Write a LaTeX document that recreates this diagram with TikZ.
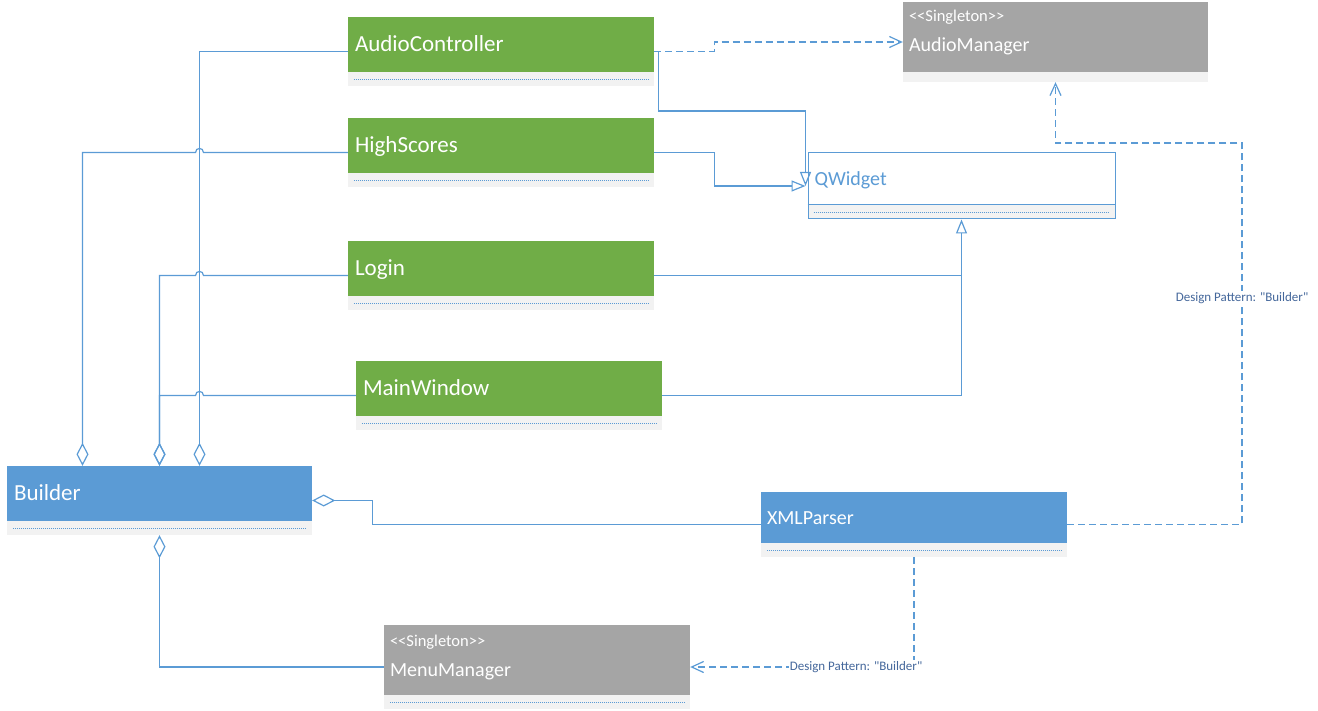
\documentclass[tikz,border=0pt]{standalone}
\usepackage{fontspec}
\setmainfont{Carlito}[Ligatures=TeXOff]
\usetikzlibrary{arrows.meta,calc}
\definecolor{cgreen}{HTML}{70AD47}
\definecolor{cblue}{HTML}{5B9BD5}
\definecolor{cgrey}{HTML}{A5A5A5}
\definecolor{cstrip}{HTML}{F2F2F2}
\definecolor{cline}{HTML}{5B9BD5}
\definecolor{clbl}{HTML}{44679B}
\tikzset{
  umlclass/.style n args={3}{rectangle, inner sep=0pt, draw=none,
    minimum width=#3, minimum height=#2,
    path picture={
      \fill[#1] (path picture bounding box.north west) rectangle ([yshift=14pt]path picture bounding box.south east);
      \fill[cstrip] ([yshift=14pt]path picture bounding box.south west) rectangle (path picture bounding box.south east);
    }},
  nmbig/.style={anchor=base west, inner sep=0pt, text=white, font=\fontsize{23}{27}\selectfont},
  nmmid/.style={anchor=base west, inner sep=0pt, text=white, font=\fontsize{20}{24}\selectfont},
  stereo/.style={anchor=base west, inner sep=0pt, text=white, font=\fontsize{16.5}{19}\selectfont},
  dotl/.style={cblue, line width=0.8pt, dash pattern=on 1pt off 1pt},
  conn/.style={cline, line width=1.2pt},
  agg/.style={conn, -{Diamond[open, length=23pt, width=12pt]}},
  gen/.style={conn, -{Triangle[open, length=14pt, width=11pt]}},
  dep/.style={cline, line width=1.2pt, dash pattern=on 7pt off 4pt, -{Straight Barb[length=12pt, width=11pt]}},
  lbl/.style={fill=white, inner sep=1pt, text=clbl, font=\fontsize{13}{15}\selectfont},
}
\begin{document}
\begin{tikzpicture}[x=1pt, y=-1pt]
\useasboundingbox (0,0) rectangle (1318,711);

% classes
\node[umlclass={cgreen}{69pt}{306pt}] (ac) at (501,51.5) {};
\node[umlclass={cgreen}{69pt}{306pt}] (hs) at (501,152.5) {};
\node[umlclass={cgreen}{69pt}{306pt}] (lo) at (501,275.5) {};
\node[umlclass={cgreen}{69pt}{306pt}] (mw) at (509,395.5) {};
\node[umlclass={cblue}{69pt}{305pt}] (bu) at (159.5,500.5) {};
\node[umlclass={cblue}{65pt}{306pt}] (xml) at (914,524.5) {};
\node[umlclass={cgrey}{84pt}{306pt}] (mm) at (537,667) {};
% AudioManager (strip 10)
\node[rectangle, inner sep=0pt, minimum width=305pt, minimum height=80pt,
  path picture={
    \fill[cgrey] (path picture bounding box.north west) rectangle ([yshift=10pt]path picture bounding box.south east);
    \fill[cstrip] ([yshift=10pt]path picture bounding box.south west) rectangle (path picture bounding box.south east);
  }] (am) at (1055.5,42) {};
% QWidget
\node[rectangle, inner sep=0pt, minimum width=307pt, minimum height=66pt, draw=cline, line width=1pt,
  path picture={
    \fill[white] (path picture bounding box.north west) rectangle ([yshift=15pt]path picture bounding box.south east);
    \fill[cstrip] ([yshift=15pt]path picture bounding box.south west) rectangle (path picture bounding box.south east);
  }] (qw) at (961.5,186) {};
\draw[cline, line width=1pt] ([yshift=15pt]qw.south west) -- ([yshift=15pt]qw.south east);

% dotted lines in strips
\foreach \n in {ac,hs,lo,mw,bu,xml,mm}{
  \draw[dotl] ([shift={(6pt,7pt)}]\n.south west) -- ([shift={(-6pt,7pt)}]\n.south east);
}
\draw[dotl] ([shift={(6pt,7.5pt)}]qw.south west) -- ([shift={(-6pt,7.5pt)}]qw.south east);

% texts
\node[nmbig] (acT) at ([xshift=7pt]ac.west) {AudioController};
\node[nmbig] (hsT) at ([xshift=7pt]hs.west) {HighScores};
\node[nmbig] (loT) at ([xshift=7pt]lo.west) {Login};
\node[nmbig] (mwT) at ([xshift=7pt]mw.west) {MainWindow};
\node[nmbig] (buT) at ([xshift=7pt]bu.west) {Builder};
\node[nmmid] (xmlT) at ([xshift=6pt]xml.west) {XMLParser};
\node[nmmid, text=cblue] (qwT) at ([xshift=7pt]qw.west) {QWidget};
\node[stereo] (amS) at ([shift={(6pt,20pt)}]am.west) {<\kern0pt<Singleton>\kern0pt>};
\node[nmmid] (amT) at ([shift={(6pt,-10pt)}]am.west) {AudioManager};
\node[stereo] (mmS) at ([shift={(6pt,21pt)}]mm.west) {<\kern0pt<Singleton>\kern0pt>};
\node[nmmid] (mmT) at ([shift={(6pt,-9pt)}]mm.west) {MenuManager};

% helper coordinates
\coordinate (bA) at ([xshift=-77pt]bu.north);
\coordinate (bC) at ([xshift=40pt]bu.north);
\coordinate (qwin) at ([xshift=-2pt]qw.west);
\coordinate (cR) at (1242,143);

% aggregations to Builder
\draw[agg] (ac.west) -| (bC);
\draw[agg] (hs.west) -- ($(bC |- hs.west)+(4pt,0pt)$) .. controls +(0pt,5.4pt) and +(0pt,5.4pt) .. ($(bC |- hs.west)+(-4pt,0pt)$) -- (bA |- hs.west) -- (bA);
\draw[agg] (lo.west) -- ($(bC |- lo.west)+(4pt,0pt)$) .. controls +(0pt,5.4pt) and +(0pt,5.4pt) .. ($(bC |- lo.west)+(-4pt,0pt)$) -- (bu.north |- lo.west) -- (bu.north);
\draw[agg] (mw.west) -- ($(bC |- mw.west)+(4pt,0pt)$) .. controls +(0pt,5.4pt) and +(0pt,5.4pt) .. ($(bC |- mw.west)+(-4pt,0pt)$) -- (bu.north |- mw.west) -- (bu.north);
\draw[agg] (xml.west) -| ([xshift=60pt]bu.east) -- (bu.east);
\draw[agg] (mm.west) -| (bu.south);

% generalizations to QWidget
\draw[gen] ([xshift=4pt]ac.east) |- ($(qwin)+(0pt,75pt)$) -- (qwin);
\draw[gen] (hs.east) -- ([xshift=60pt]hs.east) |- (qwin);
\draw[conn] (lo.east) -- (qw.south |- lo.east);
\draw[gen] (mw.east) -| (qw.south);

% dependencies
\draw[dep] (ac.east) -- ([xshift=60pt]ac.east) |- (am.west);
\draw[dep] (xml.east) -| (cR) -| (am.south);
\draw[dep] (xml.south) |- (mm.east);

% labels
\node[lbl] (dp1) at (1242,298) {Design Pattern: "Builder"};
\node[lbl] (dp2) at (856,667) {Design Pattern: "Builder"};
\end{tikzpicture}
\end{document}
